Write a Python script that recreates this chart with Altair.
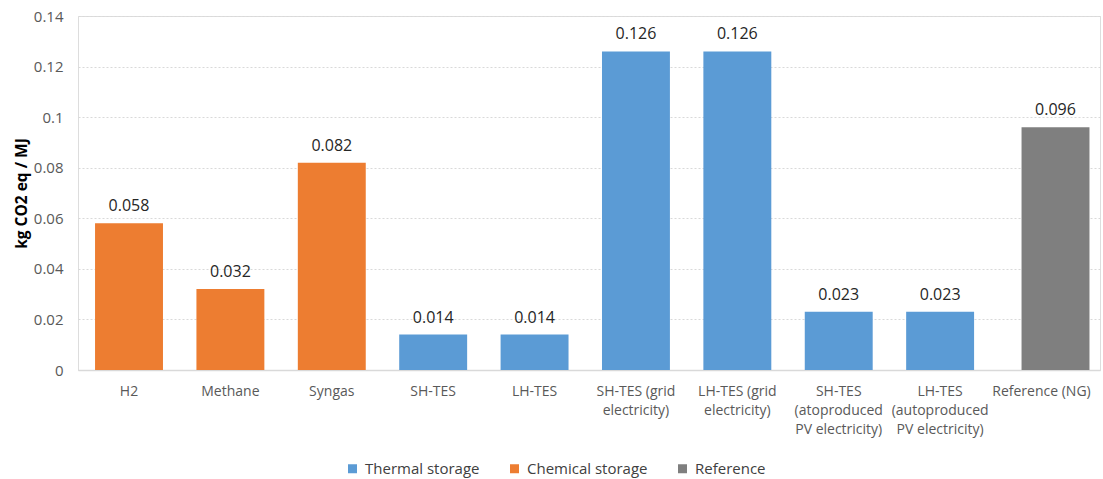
import altair as alt
import pandas as pd

# Emission factors per storage option (kg CO2 eq / MJ)
categories = [
    "H2", "Methane", "Syngas", "SH-TES", "LH-TES",
    "SH-TES (grid|electricity)", "LH-TES (grid|electricity)",
    "SH-TES|(atoproduced|PV electricity)", "LH-TES|(autoproduced|PV electricity)",
    "Reference (NG)",
]
values = [0.058, 0.032, 0.082, 0.014, 0.014, 0.126, 0.126, 0.023, 0.023, 0.096]
groups = [
    "Chemical storage", "Chemical storage", "Chemical storage",
    "Thermal storage", "Thermal storage", "Thermal storage", "Thermal storage",
    "Thermal storage", "Thermal storage", "Reference",
]
group_order = ["Thermal storage", "Chemical storage", "Reference"]
group_colors = ["#5B9BD5", "#ED7D31", "#7F7F7F"]

df = pd.DataFrame({"option": categories, "value": values, "group": groups})

FONT = "Open Sans"
REF_SHIFT = 14  # the reference series sits slightly right of its category slot

x_scale = alt.Scale(paddingInner=0.33, paddingOuter=0.205, align=0.41)

x = alt.X(
    "option:N",
    sort=categories,
    scale=x_scale,
    axis=alt.Axis(
        title=None,
        labelExpr="split(datum.label, '|')",
        labelAngle=0,
        labelFont=FONT,
        labelFontSize=14,
        labelColor="#595959",
        labelPadding=14,
        labelLineHeight=19,
        labelBaseline="top",
        ticks=False,
        domainColor="#D9D9D9",
        domainWidth=1.5,
        grid=False,
    ),
)

y = alt.Y(
    "value:Q",
    scale=alt.Scale(domain=[0, 0.14], nice=False),
    axis=alt.Axis(
        title="kg CO2 eq / MJ",
        titleFont=FONT,
        titleFontSize=15.5,
        titleFontWeight="bold",
        titleColor="#000000",
        titleX=-57,
        titleY=177,
        titleBaseline="middle",
        titleAlign="center",
        titleAngle=-90,
        values=[0, 0.02, 0.04, 0.06, 0.08, 0.1, 0.12, 0.14],
        labelExpr="datum.value == 0 ? '0' : format(datum.value, '.2~f')",
        labelFont=FONT,
        labelFontSize=15,
        labelColor="#595959",
        labelPadding=15,
        ticks=False,
        domain=False,
        gridColor="#D9D9D9",
        gridDash=[2, 2],
        gridWidth=1,
    ),
)

color = alt.Color(
    "group:N",
    scale=alt.Scale(domain=group_order, range=group_colors),
    legend=alt.Legend(
        title=None,
        orient="none",
        direction="horizontal",
        legendX=267,
        legendY=445,
        symbolType="square",
        symbolSize=81,
        symbolStrokeWidth=0,
        labelFont=FONT,
        labelFontSize=15,
        labelColor="#404040",
        columnPadding=27,
        labelOffset=5,
    ),
)

base = alt.Chart(df)
main = base.transform_filter("datum.group != 'Reference'")
ref = base.transform_filter("datum.group == 'Reference'")

bars = main.mark_bar().encode(x=x, y=y, color=color)
ref_bar = ref.mark_bar(xOffset=REF_SHIFT).encode(x=x, y=y, color=color)

text_style = dict(dy=-17, font=FONT, fontSize=16, color="#262626")
labels = main.mark_text(**text_style).encode(
    x=alt.X("option:N", sort=categories),
    y="value:Q",
    text=alt.Text("value:Q", format=".3f"),
)
ref_label = ref.mark_text(xOffset=REF_SHIFT, **text_style).encode(
    x=alt.X("option:N", sort=categories),
    y="value:Q",
    text=alt.Text("value:Q", format=".3f"),
)

chart = (
    alt.layer(bars, ref_bar, labels, ref_label)
    .properties(
        width=1022,
        height=354,
        autosize=alt.AutoSizeParams(type="none"),
        padding={"left": 78, "top": 16, "right": 3, "bottom": 109},
    )
    .configure_view(stroke=None)
    .configure(background="white")
)

chart.save("out.html", embed_options={"renderer": "svg", "actions": False})
